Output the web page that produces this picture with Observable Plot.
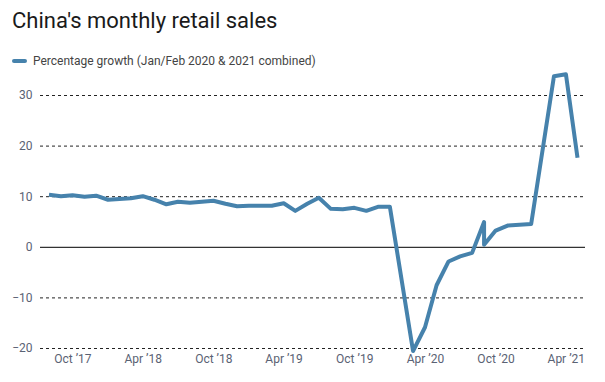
<!DOCTYPE html>
<html><head><meta charset="utf-8">
<script src="https://cdn.jsdelivr.net/npm/d3@7"></script>
<script src="https://cdn.jsdelivr.net/npm/@observablehq/plot@0.6"></script>
<style>
body{margin:0;background:#fff;font-family:Roboto,sans-serif;}
#wrap{width:605px;height:382px;position:relative;overflow:hidden;background:#fff}
h1{font-size:22px;font-weight:400;margin:0;position:absolute;left:12px;top:7px;color:#1a1a1a;letter-spacing:0;line-height:28px}
.legend{position:absolute;left:12px;top:54px;font-size:12px;color:#444;display:flex;align-items:center;line-height:14px}
.swatch{width:15px;height:4px;border-radius:2px;background:#4682ac;margin-right:6px}
#chart{position:absolute;left:0;top:70px}
</style></head>
<body><div id="wrap"><h1>China's monthly retail sales</h1><div class="legend"><span class="swatch"></span><span>Percentage growth (Jan/Feb 2020 &amp; 2021 combined)</span></div><div id="chart"></div></div>
<script>
// month of each reading (Jan/Feb combined readings are shown at February)
const months = [
  "2017-07","2017-08","2017-09","2017-10","2017-11","2017-12",
  "2018-02","2018-03","2018-04","2018-05","2018-06","2018-07","2018-08","2018-09","2018-10","2018-11","2018-12",
  "2019-02","2019-03","2019-04","2019-05","2019-06","2019-07","2019-08","2019-09","2019-10","2019-11","2019-12",
  "2020-02","2020-03","2020-04","2020-05","2020-06","2020-07","2020-08","2020-08","2020-09","2020-10","2020-12",
  "2021-02","2021-03","2021-04"
];
const growth = [
  10.4,10.1,10.3,10.0,10.2,9.4,
  9.7,10.1,9.4,8.5,9.0,8.8,9.0,9.2,8.6,8.1,8.2,
  8.2,8.7,7.2,8.6,9.8,7.6,7.5,7.8,7.2,8.0,8.0,
  -20.5,-15.8,-7.5,-2.8,-1.8,-1.1,5.0,0.5,3.3,4.3,4.6,
  33.8,34.2,17.7
];
const xTickMonths = ["2017-10","2018-04","2018-10","2019-04","2019-10","2020-04","2020-10","2021-04"];
const xTickLabels = ["Oct \u201917","Apr \u201918","Oct \u201918","Apr \u201919","Oct \u201919","Apr \u201920","Oct \u201920","Apr \u201921"];
const yTicks = [-20,-10,0,10,20,30];

const parseMonth = d3.utcParse("%Y-%m");
const endOfMonth = m => d3.utcDay.offset(d3.utcMonth.offset(parseMonth(m), 1), -1);
const data = months.map((m, i) => ({date: endOfMonth(m), value: growth[i]}));
const xTicks = xTickMonths.map(parseMonth);
const labelOf = new Map(xTicks.map((d, i) => [+d, xTickLabels[i]]));
const fmtY = d => d < 0 ? "\u2212" + Math.abs(d) : String(d);

const chart = Plot.plot({
  width: 605,
  height: 312,
  marginLeft: 40,
  marginRight: 20,
  marginTop: 25,
  marginBottom: 34,
  style: {fontFamily: "Roboto, sans-serif", fontSize: "12px", color: "#5a6274", background: "#fff"},
  x: {type: "utc", insetLeft: 8.5, insetRight: 8},
  y: {domain: [-20, 30]},
  marks: [
    Plot.gridY(yTicks.filter(d => d !== 0), {stroke: "#222", strokeOpacity: 1, strokeDasharray: "3,3"}),
    Plot.ruleY([0], {stroke: "#333", strokeWidth: 1.2}),
    Plot.axisY({ticks: yTicks, tickSize: 0, tickPadding: 8, tickFormat: fmtY, label: null}),
    Plot.axisX({ticks: xTicks, tickSize: 0, tickPadding: 6, tickFormat: d => labelOf.get(+d), label: null}),
    Plot.line(data, {x: "date", y: "value", stroke: "#4682ac", strokeWidth: 4, strokeLinejoin: "round", strokeLinecap: "butt"})
  ]
});
document.getElementById("chart").appendChild(chart);
</script>
</body></html>
